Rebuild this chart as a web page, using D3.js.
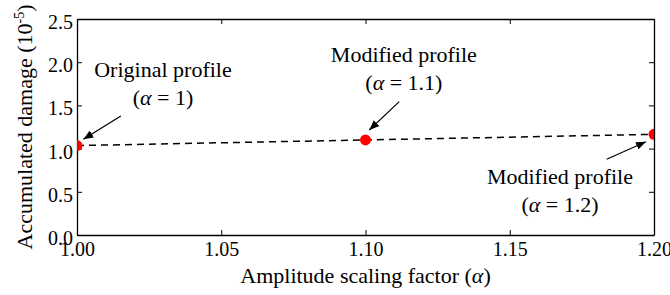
<!DOCTYPE html>
<html>
<head>
<meta charset="UTF-8">
<script src="https://d3js.org/d3.v7.min.js"></script>
</head>
<body style="margin:0">
<script>
// data
const alphas = [1.00, 1.10, 1.20];
const damage = [1.035, 1.10, 1.165];
const xTicks = [1.00, 1.05, 1.10, 1.15, 1.20];
const yTicks = [0.0, 0.5, 1.0, 1.5, 2.0, 2.5];

// annotation texts
const noteTitles = ["Original profile", "Modified profile", "Modified profile"];
const noteAlphas = ["1", "1.1", "1.2"];
// label centre / first baseline, in data units
const noteTextX = [1.0298, 1.1133, 1.1674];
const noteTextY = [1.829, 2.002, 0.590];
// arrow start and tip, in data units
const arrowFrom = [[1.0152, 1.377], [1.1117, 1.543], [1.1836, 0.876]];
const arrowTo = [[1.0022, 1.108], [1.1013, 1.215], [1.1972, 1.080]];

const FONT = "Times New Roman";
const W = 670, H = 295;
const m = { left: 77, right: 16, top: 19, bottom: 60 };

const svg = d3.select("body").append("svg")
  .attr("width", W).attr("height", H)
  .style("display", "block");

const x = d3.scaleLinear().domain([1.0, 1.2]).range([m.left, W - m.right]);
const y = d3.scaleLinear().domain([0, 2.5]).range([H - m.bottom, m.top]);

const defs = svg.append("defs");
defs.append("clipPath").attr("id", "plot")
  .append("rect")
  .attr("x", x(1.0)).attr("y", y(2.5))
  .attr("width", x(1.2) - x(1.0)).attr("height", y(0) - y(2.5));

defs.append("marker")
  .attr("id", "head")
  .attr("viewBox", "0 0 10 10")
  .attr("refX", 10).attr("refY", 5)
  .attr("markerWidth", 10).attr("markerHeight", 8)
  .attr("markerUnits", "userSpaceOnUse")
  .attr("orient", "auto")
  .attr("preserveAspectRatio", "none")
  .append("path").attr("d", "M0,0 L10,5 L0,10 Z").attr("fill", "#000");

// axes, ticks pointing inward on all four sides
const fmtX = d3.format(".2f"), fmtY = d3.format(".1f");
const gx = svg.append("g").attr("transform", `translate(0,${y(0)})`)
  .call(d3.axisBottom(x).tickValues(xTicks).tickFormat(fmtX).tickSizeInner(-5).tickSizeOuter(0).tickPadding(7));
const gy = svg.append("g").attr("transform", `translate(${x(1.0)},0)`)
  .call(d3.axisLeft(y).tickValues(yTicks).tickFormat(fmtY).tickSizeInner(-5).tickSizeOuter(0).tickPadding(4));
const gt = svg.append("g").attr("transform", `translate(0,${y(2.5)})`)
  .call(d3.axisTop(x).tickValues(xTicks).tickFormat("").tickSizeInner(-5).tickSizeOuter(0));
const gr = svg.append("g").attr("transform", `translate(${x(1.2)},0)`)
  .call(d3.axisRight(y).tickValues(yTicks).tickFormat("").tickSizeInner(-5).tickSizeOuter(0));

[gx, gy, gt, gr].forEach(g => {
  g.attr("font-family", FONT).attr("font-size", 20);
  g.select(".domain").attr("stroke", "#000").attr("stroke-width", 1.3);
  g.selectAll(".tick line").attr("stroke", "#000").attr("stroke-width", 1);
  g.selectAll("text").attr("fill", "#000").attr("font-size", 20);
});
gy.selectAll(".tick text").attr("dy", "0.47em");

// axis titles
svg.append("text")
  .attr("x", (x(1.0) + x(1.2)) / 2).attr("y", 283)
  .attr("text-anchor", "middle").attr("font-size", 22)
  .html('Amplitude scaling factor (<tspan font-style="italic">α</tspan>)');

svg.append("text")
  .attr("transform", `translate(32,${(y(0) + y(2.5)) / 2}) rotate(-90)`)
  .attr("text-anchor", "middle").attr("font-size", 22)
  .html('Accumulated damage (10<tspan dy="-8" font-size="14">-5</tspan><tspan dy="8">)</tspan>');

// dashed line + markers
const pts = alphas.map((a, i) => [a, damage[i]]);
const plot = svg.append("g").attr("clip-path", "url(#plot)");
plot.append("path")
  .datum(pts)
  .attr("fill", "none").attr("stroke", "#000").attr("stroke-width", 1.5)
  .attr("stroke-dasharray", "7,5")
  .attr("d", d3.line().x(d => x(d[0])).y(d => y(d[1])));
plot.selectAll("circle").data(pts).join("circle")
  .attr("cx", d => x(d[0])).attr("cy", d => y(d[1])).attr("r", 5.5)
  .attr("fill", "#f00");

// annotations
noteTitles.forEach((t, i) => {
  const tx = x(noteTextX[i]), ty = y(noteTextY[i]);
  svg.append("text")
    .attr("x", tx).attr("y", ty)
    .attr("text-anchor", "middle").attr("font-size", 22)
    .text(t);
  svg.append("text")
    .attr("x", tx).attr("y", ty + 28)
    .attr("text-anchor", "middle").attr("font-size", 22)
    .html(`(<tspan font-style="italic">α</tspan> = ${noteAlphas[i]})`);
  svg.append("line")
    .attr("x1", x(arrowFrom[i][0])).attr("y1", y(arrowFrom[i][1]))
    .attr("x2", x(arrowTo[i][0])).attr("y2", y(arrowTo[i][1]))
    .attr("stroke", "#000").attr("stroke-width", 1.2)
    .attr("marker-end", "url(#head)");
});

// serif font forced on every text node
svg.selectAll("text")
  .attr("font-family", FONT)
  .style("font-family", '"Times New Roman", "Liberation Serif", Times, serif');
</script>
</body>
</html>
